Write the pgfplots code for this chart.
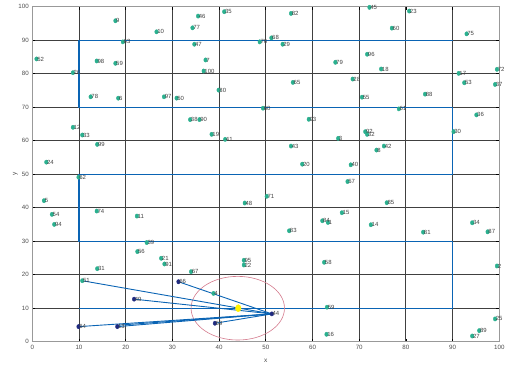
\documentclass[border=0pt]{standalone}
\usepackage{fontspec}
\setmainfont{Liberation Sans}
\usepackage{pgfplots}
\pgfplotsset{compat=1.18}
\usepackage{pgfplotstable}
\definecolor{tealpt}{HTML}{2BB08F}
\definecolor{navypt}{HTML}{1F2A80}
\definecolor{lblue}{HTML}{0A64B4}
\definecolor{ring}{HTML}{D47A8C}

\pgfplotstableread{
x y label
63.3 35.6 1
99.5 22.6 2
65.5 60.7 3
38.8 14.4 4
2.5 42.1 5
18.4 72.7 6
37.1 84.1 7
73.7 57.2 8
17.8 95.8 9
26.6 92.5 10
22.4 37.5 11
8.7 64.0 12
72.5 34.9 14
66.3 38.5 15
63.0 2.2 16
91.3 80.1 17
74.7 81.4 18
38.4 61.9 19
57.8 53.0 20
27.6 24.9 21
45.3 22.9 22
80.7 98.7 23
3.0 53.6 24
99.1 6.8 25
8.7 80.3 26
94.2 1.7 27
68.6 78.4 28
53.6 88.8 29
90.2 62.7 30
13.9 21.8 31
71.7 61.9 32
10.7 61.7 33
94.2 35.5 34
41.1 98.5 35
95.1 67.7 36
99.1 76.8 37
33.8 66.3 38
24.5 29.6 39
68.2 52.8 40
41.3 60.4 41
75.3 58.4 42
55.4 58.4 43
72.2 99.8 45
35.5 97.2 46
34.7 88.8 47
45.5 41.4 48
30.9 72.7 50
10.7 18.2 51
0.9 84.4 52
92.5 77.3 53
4.2 38.0 54
70.6 73.0 55
22.5 26.9 56
67.5 47.8 57
62.5 23.7 58
17.8 83.1 59
77.0 93.6 60
78.5 69.5 61
9.9 49.1 62
19.4 89.5 63
55.8 77.4 65
34.0 20.9 67
51.2 90.7 68
49.4 69.7 60
50.2 43.4 71
99.5 81.3 72
13.8 39.0 74
93.0 91.9 75
48.7 89.5 76
34.3 93.7 77
12.5 73.1 78
64.9 83.4 79
39.9 75.1 80
83.7 32.7 81
55.4 98.0 82
55.0 33.1 83
62.1 36.1 84
75.9 41.5 85
71.3 62.7 92
97.5 32.8 87
84.1 73.9 88
95.7 3.3 89
35.8 66.3 90
28.3 23.2 91
59.2 66.4 93
4.7 35.0 94
45.3 24.3 95
71.7 85.8 96
28.2 73.1 97
13.8 83.8 98
13.9 58.9 99
36.7 80.8 100
63.1 10.3 59
}\tealtab

\pgfplotstableread{
x y label
18.2 4.5 13
51.3 8.3 44
21.8 12.7 49
9.9 4.5 64
31.3 17.9 66
39.1 5.5 69
}\navytab

\begin{document}
\begin{tikzpicture}
\begin{axis}[
  scale only axis, width=467bp, height=335bp,
  xmin=0, xmax=100, ymin=0, ymax=100,
  xtick={0,10,...,100}, ytick={0,10,...,100},
  grid=major, major grid style={black!75, line width=0.9bp},
  axis line style={black!40, line width=1.1bp},
  tick style={black, line width=0.8bp}, tick align=inside, major tick length=3bp,
  ticklabel style={font=\fontsize{6.2}{7}\selectfont, text=black!70},
  /pgf/number format/assume math mode=true,
  xlabel={x}, ylabel={y},
  label style={font=\fontsize{6.5}{7}\selectfont, text=black!70},
  xlabel style={yshift=-3bp},
  ylabel style={yshift=-6bp},
  clip=false,
]
\coordinate (ll) at (rel axis cs:0,0);
\coordinate (ur) at (rel axis cs:1,1);
% serpentine
\addplot[lblue, line width=1.1bp, no markers] coordinates {(90,90)(10,90)(10,70)(90,70)(90,50)(10,50)(10,30)(90,30)(90,10)(10,10)};
% circle
\draw[ring, line width=0.6bp] (axis cs:44,10) ellipse [x radius=10, y radius=9.5];
% links
\addplot[lblue, line width=0.9bp, no markers] coordinates {(10.7,18.2)(51.3,8.3)};
\addplot[lblue, line width=0.9bp, no markers] coordinates {(21.8,12.7)(51.3,8.3)};
\addplot[lblue, line width=0.9bp, no markers] coordinates {(9.9,4.5)(51.3,8.3)};
\addplot[lblue, line width=0.9bp, no markers] coordinates {(18.2,4.5)(51.3,8.3)};
\addplot[lblue, line width=0.9bp, no markers] coordinates {(18.2,4.9)(51.3,8.3)};
\addplot[lblue, line width=0.9bp, no markers] coordinates {(31.3,17.9)(51.3,8.3)};
\addplot[lblue, line width=0.9bp, no markers] coordinates {(39.1,5.5)(51.3,8.3)};
% teal points
\addplot[only marks, mark=*, mark size=1.8bp, mark options={draw=tealpt, fill=tealpt, yscale=1.2},
  point meta=explicit symbolic, nodes near coords,
  nodes near coords style={anchor=west, inner sep=0.6bp, font=\fontsize{6}{7}\selectfont, text=black!75}]
  table[x=x, y=y, meta=label]{\tealtab};
% navy points
\addplot[only marks, mark=*, mark size=1.8bp, mark options={draw=navypt, fill=navypt, yscale=1.2},
  point meta=explicit symbolic, nodes near coords,
  nodes near coords style={anchor=west, inner sep=0.6bp, font=\fontsize{6}{7}\selectfont, text=black!75}]
  table[x=x, y=y, meta=label]{\navytab};
% yellow centre
\addplot[only marks, mark=*, mark size=2.8bp, mark options={draw=yellow, fill=yellow, yscale=1.25}] coordinates {(44.1,10)};
\end{axis}
\pgfresetboundingbox
\path[use as bounding box] ([shift={(-32.3bp,-27.3bp)}]ll) rectangle ([shift={(13.7bp,6.7bp)}]ur);
\end{tikzpicture}
\end{document}
